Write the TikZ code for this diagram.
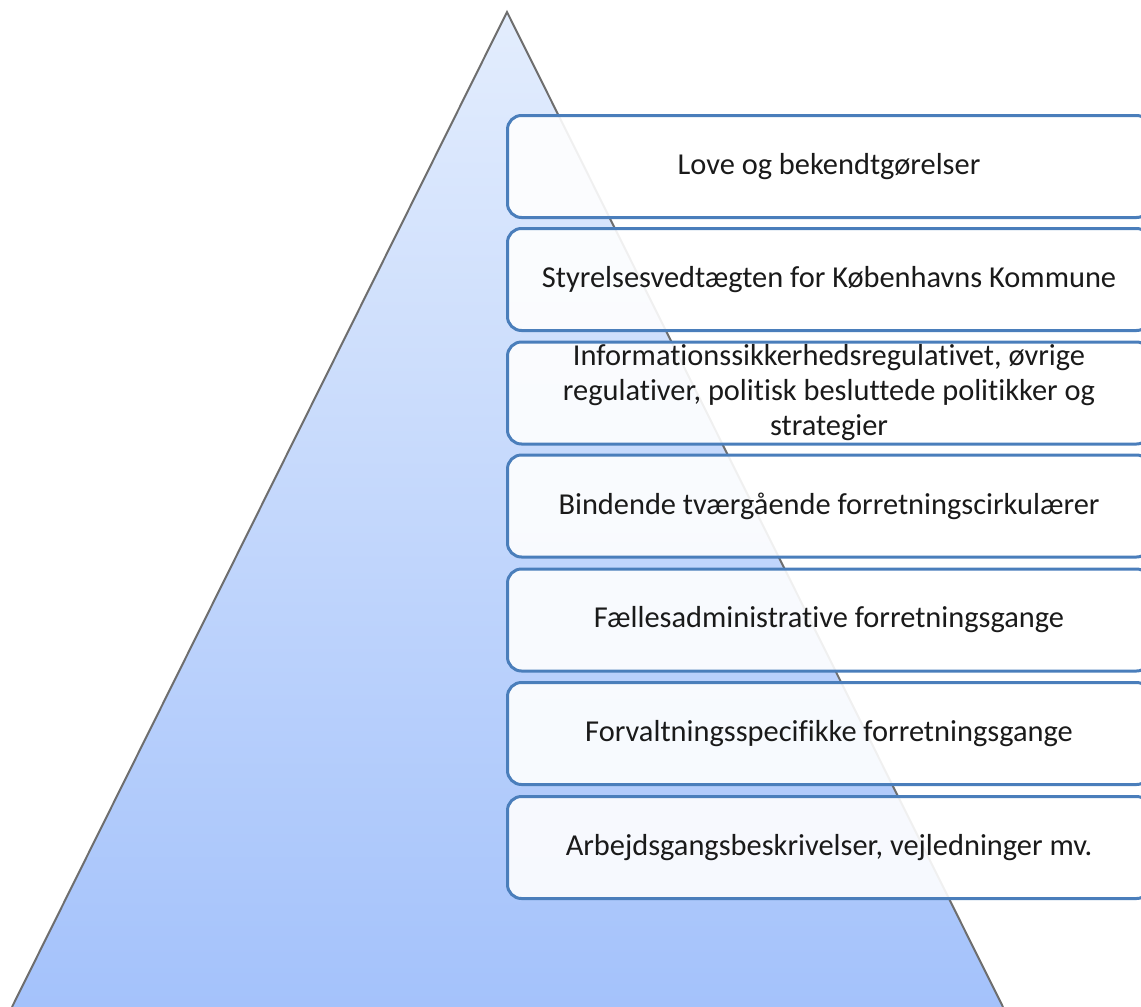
\documentclass[tikz,border=0pt]{standalone}
\usepackage{fontspec}
\setmainfont[Ligatures={NoCommon}]{Carlito}
\definecolor{boxborder}{HTML}{4A7EBB}
\definecolor{trtop}{HTML}{E3EDFD}
\definecolor{trbot}{HTML}{A4C2FB}
\definecolor{textcol}{HTML}{1A1A1A}
\definecolor{edgecol}{HTML}{6E6E6E}
\begin{document}
\begin{tikzpicture}[x=0.5pt,y=-0.5pt,
  stepbox/.style={draw=boxborder, line width=1.5pt, rounded corners=7pt,
    fill=white, fill opacity=0.9, text opacity=1,
    minimum width=321.5pt, minimum height=51pt, inner sep=0pt,
    align=center, font=\fontsize{15.2}{17.5}\selectfont, text=textcol},
  edge/.style={draw=edgecol, line width=1pt}]
\useasboundingbox (0,0) rectangle (1141,1007);
\clip (0,0) rectangle (1141,1007);
\coordinate (apex) at (507,12);
\coordinate (bl) at (12,1007);
\coordinate (br) at (1003,1007);
\shade[top color=trtop, bottom color=trbot] (apex) -- (br) -- (bl) -- cycle;
\draw[edge] (bl) -- (apex) -- (br);
\node[stepbox] (b1) at (829,166.5) {Love og bekendtgørelser};
\node[stepbox] (b2) at (829,279.5) {Styrelsesvedtægten for Københavns Kommune};
\node[stepbox] (b3) at (829,393) {Informationssikkerhedsregulativet, øvrige\\regulativer, politisk besluttede politikker og\\strategier};
\node[stepbox] (b4) at (829,506) {Bindende tværgående forretningscirkulærer};
\node[stepbox] (b5) at (829,620) {Fællesadministrative forretningsgange};
\node[stepbox] (b6) at (829,733.5) {Forvaltningsspecifikke forretningsgange};
\node[stepbox] (b7) at (829,847.5) {Arbejdsgangsbeskrivelser, vejledninger mv.};
\end{tikzpicture}
\end{document}
